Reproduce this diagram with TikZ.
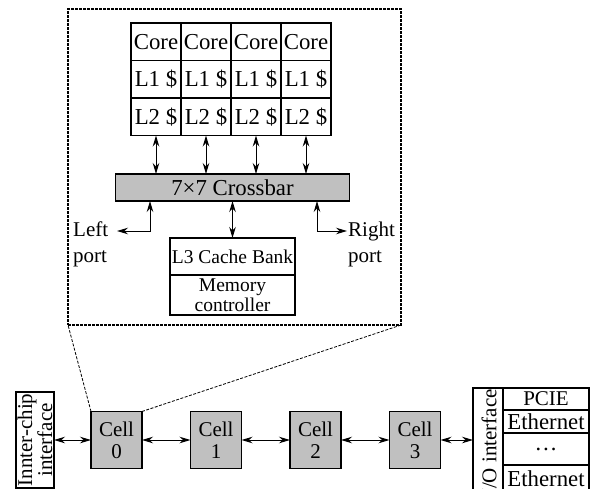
\documentclass[tikz,border=0pt]{standalone}
\usepackage{fontspec}
\setmainfont{Liberation Serif}
\usepackage{tikz}
\usetikzlibrary{arrows.meta,positioning}

\definecolor{cellgray}{RGB}{192,192,192}

\begin{document}
\begin{tikzpicture}[
  x=1pt, y=-1pt,
  font=\fontsize{22.8}{22}\selectfont,
  cellbox/.style={draw,line width=1.2pt,minimum width=50pt,minimum height=37.5pt,inner sep=0pt,outer sep=0pt},
  graybox/.style={draw,line width=1.2pt,fill=cellgray,inner sep=0pt,outer sep=0pt,align=center},
  plainbox/.style={draw,line width=1.2pt,inner sep=0pt,outer sep=0pt,align=center},
  cellnode/.style={graybox,minimum width=51pt,minimum height=57pt,font=\fontsize{21}{22}\selectfont},
  frame/.style={draw,dash pattern=on 3pt off 1pt,line width=1.2pt,inner sep=0pt,outer sep=0pt},
  biarr/.style={{Stealth[length=11pt,width=6.5pt]}-{Stealth[length=11pt,width=6.5pt]},line width=1pt},
  zoomline/.style={dash pattern=on 3pt off 1.5pt,line width=0.8pt}
]
  \useasboundingbox (0,0) rectangle (591,489);

  % zoomed-in view of one cell
  \node[frame,minimum width=333pt,minimum height=316pt] (zoom) at (234.5,167) {};

  % cores with their private caches
  \node[cellbox] (core1) at (156,41.75) {Core};
  \node[cellbox,right=0pt of core1] (core2) {Core};
  \node[cellbox,right=0pt of core2] (core3) {Core};
  \node[cellbox,right=0pt of core3] (core4) {Core};
  \foreach \i in {1,...,4} {
    \node[cellbox,below=0pt of core\i] (l1\i) {L1 \$};
    \node[cellbox,below=0pt of l1\i] (l2\i) {L2 \$};
  }

  \node[graybox,minimum width=234pt,minimum height=27pt] (xbar) at (232.5,187.5) {7×7 Crossbar};
  \foreach \i in {1,...,4}
    \draw[biarr] (l2\i.south) -- (l2\i.south |- xbar.north);

  \node[plainbox,minimum width=125pt,minimum height=37pt,font=\fontsize{19.5}{20}\selectfont] (l3) at (232.5,256.5) {L3 Cache Bank};
  \node[plainbox,minimum width=125pt,minimum height=40pt,below=0pt of l3,
        font=\fontsize{19.5}{20}\selectfont] (mc) {Memory\\controller};
  \draw[biarr] (xbar.south) -- (l3.north);

  % left and right ports
  \node[anchor=north west,inner sep=0pt,align=left,font=\fontsize{21}{26}\selectfont] (lport) at (73,222) {Left\\port};
  \node[anchor=north west,inner sep=0pt,align=left,font=\fontsize{21}{26}\selectfont] (rport) at (348,222) {Right\\port};
  \coordinate (lpend) at (117,231);
  \coordinate (rpend) at (347,231);
  \draw[biarr] (xbar.south -| 150,0) |- (lpend);
  \draw[biarr] (xbar.south -| 317,0) |- (rpend);

  % chip level: cells in a row
  \node[cellnode] (cell0) at (116.5,440) {Cell\\0};
  \node[cellnode,right=48.5pt of cell0] (cell1) {Cell\\1};
  \node[cellnode,right=48.5pt of cell1] (cell2) {Cell\\2};
  \node[cellnode,right=48.5pt of cell2] (cell3) {Cell\\3};

  \draw[zoomline] (cell0.north west) -- (zoom.south west);
  \draw[zoomline] (cell0.north east) -- (zoom.south east);

  % inter-chip interface
  \node[plainbox,minimum width=38pt,minimum height=96pt] (inter) at (35,440) {};
  \node[rotate=90,align=center,inner sep=0pt,font=\fontsize{21}{20}\selectfont] at (inter.center) {Innter-chip\\interface};

  % I/O interface
  \node[plainbox,minimum width=30pt,minimum height=104pt] (io) at (488,440) {};
  \node[rotate=90,inner sep=0pt,font=\fontsize{21}{22}\selectfont] at ([xshift=1pt,yshift=-2.5pt]io.center) {I/O interface};
  \node[plainbox,minimum width=86pt,minimum height=22pt,font=\fontsize{21}{22}\selectfont] (pcie) at (546,399) {PCIE};
  \node[plainbox,minimum width=86pt,minimum height=23pt,below=0pt of pcie] (eth1) {Ethernet};
  \node[plainbox,minimum width=86pt,minimum height=32pt,below=0pt of eth1] (dots) {…};
  \node[plainbox,minimum width=86pt,minimum height=27pt,below=0pt of dots] (eth2) {Ethernet};

  \draw[biarr] (inter.east) -- (cell0.west);
  \draw[biarr] (cell0.east) -- (cell1.west);
  \draw[biarr] (cell1.east) -- (cell2.west);
  \draw[biarr] (cell2.east) -- (cell3.west);
  \draw[biarr] (cell3.east) -- (io.west);
\end{tikzpicture}
\end{document}
